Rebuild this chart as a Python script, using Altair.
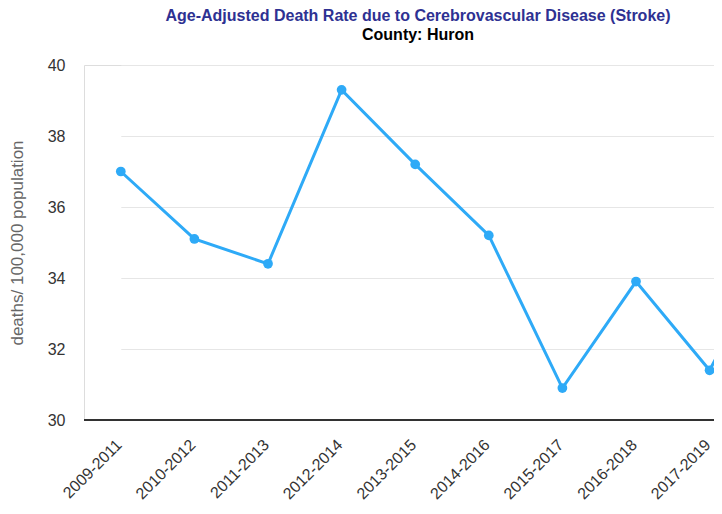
import altair as alt
import pandas as pd

periods = ["2009-2011", "2010-2012", "2011-2013", "2012-2014", "2013-2015",
           "2014-2016", "2015-2017", "2016-2018", "2017-2019", "2018-2020"]
rates = [37.0, 35.1, 34.4, 39.3, 37.2, 35.2, 30.9, 33.9, 31.4, 35.3]
y_ticks = [30, 32, 34, 36, 38, 40]

df = pd.DataFrame({"period": periods, "rate": rates})

FONT = "Liberation Sans"
STEP = 73.6
x_range = [STEP / 2, STEP / 2 + STEP * (len(periods) - 1)]

x = alt.X("period:O",
          scale=alt.Scale(type="point", domain=periods, range=x_range, padding=0),
          axis=alt.Axis(title=None, labelAngle=-45, labelAlign="right", labelBaseline="middle",
                        labelPadding=22, labelOffset=-2, labelFontSize=16, labelColor="#333333",
                        labelFont=FONT, domain=False, ticks=False, tickSize=0, grid=False,
                        labelOverlap=False))
y = alt.Y("rate:Q",
          scale=alt.Scale(domain=[30, 40], nice=False, zero=False),
          axis=alt.Axis(title="deaths/ 100,000 population", values=y_ticks,
                        titleFontSize=17, titleFont=FONT, titleColor="#666666",
                        titleFontWeight="normal", titlePadding=21,
                        labelFontSize=16, labelFont=FONT, labelColor="#333333",
                        labelPadding=19, ticks=False, tickSize=0, domain=False,
                        grid=True, gridColor="#e6e6e6", gridWidth=1))

base = alt.Chart(df)
baseline = base.mark_rule(color="#333333", strokeWidth=1.5).encode(y=alt.datum(30))
line = base.mark_line(color="#2eaaf7", strokeWidth=3, clip=True).encode(x=x, y=y)
pts = base.mark_point(color="#2eaaf7", filled=True, opacity=1, size=95, clip=True).encode(x=x, y=y)

chart = alt.layer(line, baseline, pts).properties(
    width=630, height=355,
    autosize=alt.AutoSizeParams(type="none"),
    padding={"left": 76, "top": 57, "right": 0, "bottom": 84},
    title=alt.TitleParams(
        text="Age-Adjusted Death Rate due to Cerebrovascular Disease (Stroke)",
        subtitle="County: Huron",
        font=FONT, subtitleFont=FONT,
        fontSize=16, subtitleFontSize=16,
        fontWeight="bold", subtitleFontWeight="bold",
        color="#2e3192", subtitleColor="#000000",
        anchor="middle", dx=19, offset=14, subtitlePadding=3,
    ),
).configure_view(stroke=None).configure(background="white")

chart.save("out.html", embed_options={"renderer": "svg", "actions": False})
